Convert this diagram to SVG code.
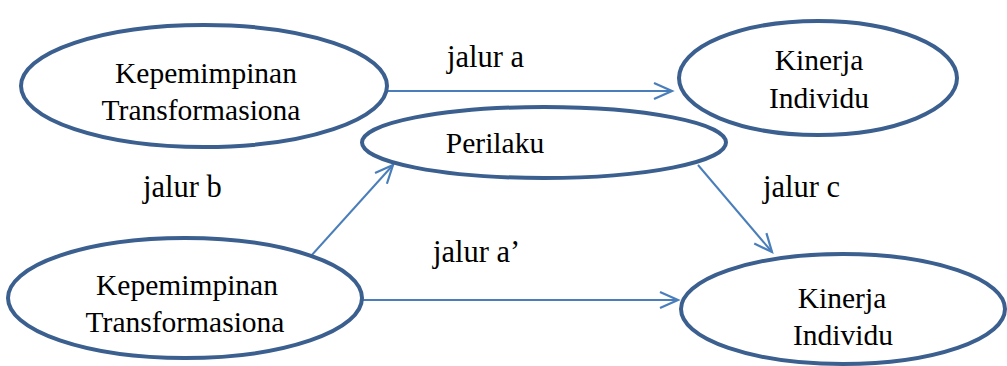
<svg xmlns="http://www.w3.org/2000/svg" width="1007" height="366" viewBox="0 0 1007 366">
  <style>
    .node ellipse { fill: #ffffff; stroke: #3b5f8e; stroke-width: 4; }
    .node text { font-family: 'Liberation Serif', 'Times New Roman', 'DejaVu Serif', serif; font-size: 29.5px; fill: #000000; text-anchor: middle; }
    .edge { fill: none; stroke: #4a7ebb; stroke-width: 2; marker-end: url(#arrow); }
    .label { font-family: 'Liberation Serif', 'Times New Roman', 'DejaVu Serif', serif; font-size: 30.5px; fill: #000000; }
  </style>
  <defs>
    <!-- open V arrowhead used by every connector -->
    <marker id="arrow" markerUnits="userSpaceOnUse" markerWidth="24" markerHeight="22" refX="21" refY="11" orient="auto" overflow="visible">
      <path d="M3,3 L21,11 L3,19" fill="none" stroke="#4a7ebb" stroke-width="2.2"/>
    </marker>
  </defs>

  <rect width="1007" height="366" fill="#ffffff"/>

  <g id="connectors">
    <line class="edge" x1="388" y1="91" x2="672" y2="91"/>
    <line class="edge" x1="311" y1="256" x2="393" y2="165"/>
    <line class="edge" x1="698" y1="165" x2="772" y2="252"/>
    <line class="edge" x1="362" y1="300" x2="678" y2="300"/>
  </g>

  <g id="node-kepemimpinan-top" class="node">
    <ellipse cx="204" cy="86" rx="183" ry="61"/>
    <text x="206" y="83">Kepemimpinan</text>
    <text x="201" y="120">Transformasiona</text>
  </g>

  <g id="node-perilaku" class="node">
    <ellipse cx="544" cy="142.5" rx="182" ry="35.5"/>
    <text x="495" y="153">Perilaku</text>
  </g>

  <g id="node-kinerja-top" class="node">
    <ellipse cx="818" cy="78" rx="139" ry="57"/>
    <text x="819" y="70">Kinerja</text>
    <text x="819" y="108">Individu</text>
  </g>

  <g id="node-kepemimpinan-bottom" class="node">
    <ellipse cx="185" cy="298" rx="177" ry="60"/>
    <text x="187" y="295">Kepemimpinan</text>
    <text x="185" y="332">Transformasiona</text>
  </g>

  <g id="node-kinerja-bottom" class="node">
    <ellipse cx="843" cy="309" rx="162" ry="55"/>
    <text x="842" y="308">Kinerja</text>
    <text x="843" y="345">Individu</text>
  </g>

  <g id="labels">
    <text class="label" x="447" y="67">jalur a</text>
    <text class="label" x="143" y="197">jalur b</text>
    <text class="label" x="433" y="262">jalur a’</text>
    <text class="label" x="763" y="197">jalur c</text>
  </g>
</svg>
